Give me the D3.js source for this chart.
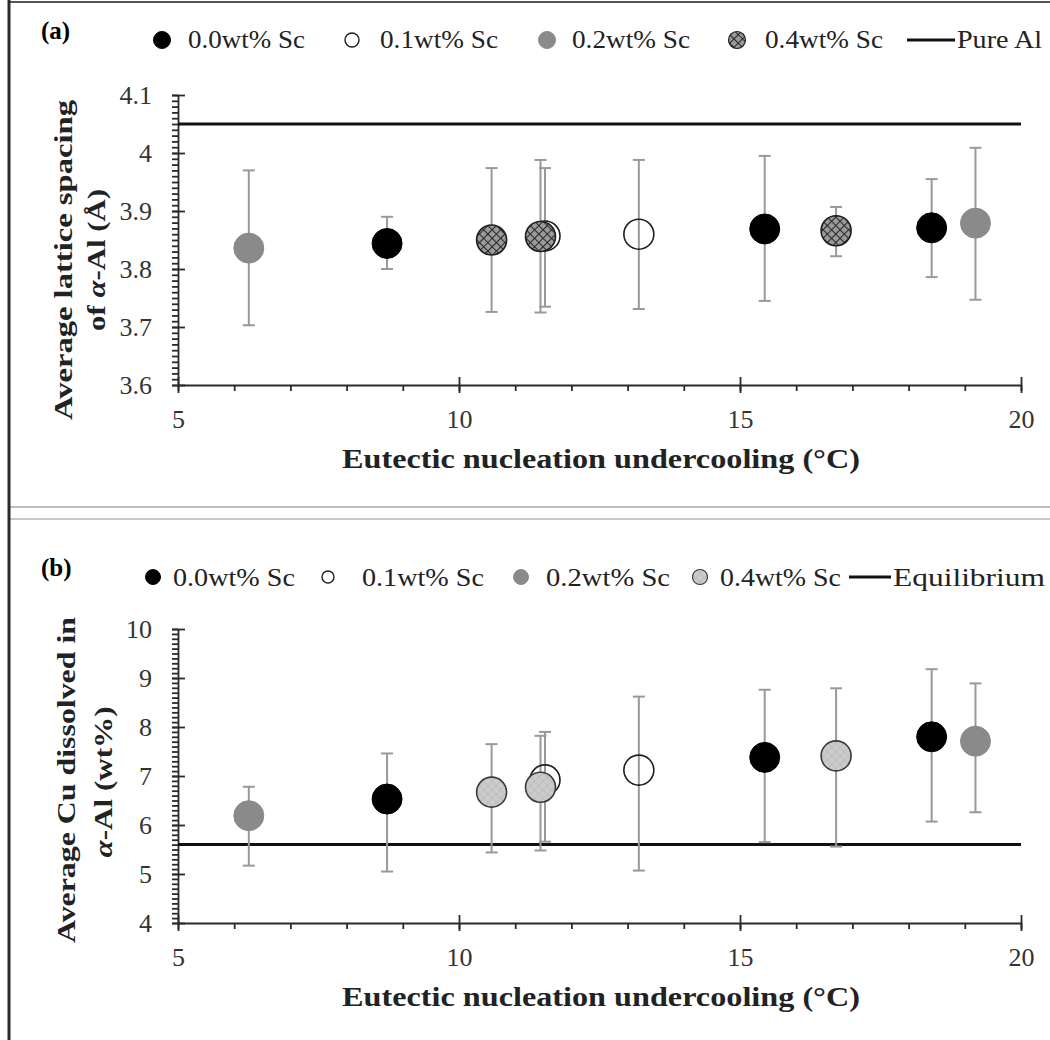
<!DOCTYPE html>
<html>
<head>
<meta charset="utf-8">
<script src="https://cdn.jsdelivr.net/npm/d3@7/dist/d3.min.js"></script>
<style>
  html, body { margin: 0; padding: 0; background: #fff; }
  svg { display: block; }
  svg text { font-family: "Liberation Serif", "Times New Roman", serif; }
</style>
</head>
<body>
<svg id="fig" width="1050" height="1040"></svg>
<script>
// ---- data -------------------------------------------------------------
const seriesLabels = ["0.0wt% Sc", "0.1wt% Sc", "0.2wt% Sc", "0.4wt% Sc"];

// eutectic nucleation undercooling (°C) for each alloy
const x00 = [8.72, 15.44, 18.41];
const x01 = [11.53, 13.20];
const x02 = [6.26, 19.19];
const x04 = [10.58, 11.45, 16.71];

// (a) average lattice spacing of α-Al (Å), with error-bar limits
const lat00 = [3.844, 3.869, 3.871], lat00Lo = [3.800, 3.745, 3.786], lat00Hi = [3.890, 3.995, 3.955];
const lat01 = [3.857, 3.860],        lat01Lo = [3.735, 3.731],        lat01Hi = [3.974, 3.988];
const lat02 = [3.836, 3.879],        lat02Lo = [3.703, 3.747],        lat02Hi = [3.970, 4.009];
const lat04 = [3.850, 3.856, 3.866], lat04Lo = [3.726, 3.725, 3.822], lat04Hi = [3.974, 3.988, 3.907];
const pureAl = 4.05;

// (b) average Cu dissolved in α-Al (wt%), with error-bar limits
const cu00 = [6.53, 7.38, 7.80], cu00Lo = [5.05, 5.65, 6.07], cu00Hi = [7.46, 8.76, 9.18];
const cu01 = [6.92, 7.12],       cu01Lo = [5.66, 5.07],       cu01Hi = [7.90, 8.62];
const cu02 = [6.19, 7.71],       cu02Lo = [5.17, 6.26],       cu02Hi = [6.78, 8.89];
const cu04 = [6.67, 6.77, 7.41], cu04Lo = [5.44, 5.48, 5.56], cu04Hi = [7.65, 7.82, 8.79];
const equilibrium = 5.6;

// axis ticks
const xTicks = [5, 10, 15, 20];
const latTicks = [3.6, 3.7, 3.8, 3.9, 4.0, 4.1];
const cuTicks = [4, 5, 6, 7, 8, 9, 10];

// ---- helpers ----------------------------------------------------------
const FONT = "'Liberation Serif', 'Times New Roman', serif";
const svg = d3.select("#fig");
const defs = svg.append("defs");

// cross-hatched fill for 0.4wt% Sc in (a)
const hA = defs.append("pattern").attr("id", "hatchA")
  .attr("patternUnits", "userSpaceOnUse").attr("width", 6).attr("height", 6)
  .attr("patternTransform", "rotate(45)");
hA.append("rect").attr("width", 6).attr("height", 6).attr("fill", "#9a9a9a");
hA.append("line").attr("x1", 0).attr("y1", 0).attr("x2", 0).attr("y2", 6).attr("stroke", "#262626").attr("stroke-width", 2);
hA.append("line").attr("x1", 0).attr("y1", 0).attr("x2", 6).attr("y2", 0).attr("stroke", "#262626").attr("stroke-width", 2);

// light stippled fill for 0.4wt% Sc in (b)
const hB = defs.append("pattern").attr("id", "hatchB")
  .attr("patternUnits", "userSpaceOnUse").attr("width", 6).attr("height", 6)
  .attr("patternTransform", "rotate(45)");
hB.append("rect").attr("width", 6).attr("height", 6).attr("fill", "#cbcbcb");
hB.append("line").attr("x1", 0).attr("y1", 0).attr("x2", 0).attr("y2", 6).attr("stroke", "#b2b2b2").attr("stroke-width", 1);
hB.append("line").attr("x1", 0).attr("y1", 0).attr("x2", 6).attr("y2", 0).attr("stroke", "#b2b2b2").attr("stroke-width", 1);

function styleMarker(sel, kind, panel) {
  if (kind === 0) sel.attr("fill", "#000").attr("stroke", "#000").attr("stroke-width", 1);
  if (kind === 1) sel.attr("fill", "none").attr("stroke", "#1e1e1e").attr("stroke-width", 1.6);
  if (kind === 2) sel.attr("fill", "#8a8a8a").attr("stroke", "#8a8a8a").attr("stroke-width", 1);
  if (kind === 3) sel.attr("fill", panel === "a" ? "url(#hatchA)" : "url(#hatchB)")
                     .attr("stroke", panel === "a" ? "#1e1e1e" : "#3a3a3a").attr("stroke-width", 1.6);
  return sel;
}

function drawAxes(g, x, y, yMajor, yMinor, fmt) {
  const y0 = y.range()[0];
  const x0 = x.range()[0];
  const xMinor = d3.range(x.domain()[0], x.domain()[1] + 1, 1);

  // x minor ticks (below the axis)
  const gxm = g.append("g").attr("transform", `translate(0,${y0})`)
    .call(d3.axisBottom(x).tickValues(xMinor).tickSize(6).tickFormat(""));
  gxm.select(".domain").remove();
  // x major ticks crossing the axis, with labels
  const gx = g.append("g").attr("transform", `translate(0,${y0})`)
    .call(d3.axisBottom(x).tickValues(xTicks).tickSize(8).tickSizeOuter(0).tickPadding(17).tickFormat(d3.format("d")));
  gx.selectAll(".tick line").attr("y1", -8);

  // y minor ticks (left of the axis)
  const gym = g.append("g").attr("transform", `translate(${x0},0)`)
    .call(d3.axisLeft(y).tickValues(yMinor).tickSize(6).tickFormat(""));
  gym.select(".domain").remove();
  // y major ticks crossing the axis, with labels
  const gy = g.append("g").attr("transform", `translate(${x0},0)`)
    .call(d3.axisLeft(y).tickValues(yMajor).tickSize(6).tickSizeOuter(0).tickPadding(20).tickFormat(fmt));
  gy.selectAll(".tick line").attr("x1", 7);

  g.selectAll(".tick line, .domain").attr("stroke", "#2a2a2a").attr("stroke-width", 1.8);
  g.selectAll(".tick text").attr("font-size", 26).attr("fill", "#333").style("font-family", FONT);
  gy.selectAll(".tick text").attr("dy", "0.33em");
}

function makeSeries(xs, ys, lo, hi, kind, panel) {
  const pts = xs.map((v, i) => ({ x: v, y: ys[i], lo: lo[i], hi: hi[i] }));
  return { pts, kind, panel };
}

function drawPanel(g, x, y, series) {
  // error bars first
  const bars = g.append("g").attr("stroke", "#999").attr("stroke-width", 2);
  series.forEach(s => {
    s.pts.forEach(p => {
      bars.append("line").attr("x1", x(p.x)).attr("x2", x(p.x)).attr("y1", y(p.lo)).attr("y2", y(p.hi));
      bars.append("line").attr("x1", x(p.x) - 6).attr("x2", x(p.x) + 6).attr("y1", y(p.lo)).attr("y2", y(p.lo));
      bars.append("line").attr("x1", x(p.x) - 6).attr("x2", x(p.x) + 6).attr("y1", y(p.hi)).attr("y2", y(p.hi));
    });
  });
  // markers on top
  series.forEach(s => {
    g.append("g").selectAll("circle").data(s.pts).join("circle")
      .attr("cx", d => x(d.x)).attr("cy", d => y(d.y)).attr("r", 15)
      .call(sel => styleMarker(sel, s.kind, s.panel));
  });
}

function legendText(g, x, y, w, str) {
  return g.append("text").attr("x", x).attr("y", y).attr("font-size", 25).attr("fill", "#222")
    .style("font-family", FONT)
    .attr("textLength", w).attr("lengthAdjust", "spacingAndGlyphs").text(str);
}

function drawLegend(g, items, lineItem, panel, y, baseline, markerR) {
  items.forEach((it, k) => {
    const c = g.append("circle").attr("cx", it.cx).attr("cy", y).attr("r", k === 1 ? markerR - 1.5 : markerR);
    styleMarker(c, k, panel);
    if (k === 1) c.attr("stroke-width", 1.4);
    if (k === 3) c.attr("stroke-width", 1.2);
    legendText(g, it.tx, baseline, it.tw, seriesLabels[k]);
  });
  g.append("line").attr("x1", lineItem.x1).attr("x2", lineItem.x2).attr("y1", y).attr("y2", y)
    .attr("stroke", "#111").attr("stroke-width", 3);
  legendText(g, lineItem.tx, baseline, lineItem.tw, lineItem.label);
}

function boldText(g, transform, size, w) {
  const t = g.append("text").attr("transform", transform).attr("text-anchor", "middle")
    .attr("font-size", size).attr("font-weight", "bold").attr("fill", "#222").style("font-family", FONT);
  if (w) t.attr("textLength", w).attr("lengthAdjust", "spacingAndGlyphs");
  return t;
}

// ---- frame ------------------------------------------------------------
svg.append("rect").attr("width", 1050).attr("height", 1040).attr("fill", "#fff");
svg.append("line").attr("x1", 9).attr("x2", 1050).attr("y1", 2).attr("y2", 2).attr("stroke", "#555").attr("stroke-width", 2);
svg.append("line").attr("x1", 9).attr("x2", 1050).attr("y1", 507).attr("y2", 507).attr("stroke", "#bdbdbd").attr("stroke-width", 2);
svg.append("line").attr("x1", 9).attr("x2", 1050).attr("y1", 519).attr("y2", 519).attr("stroke", "#c8c8c8").attr("stroke-width", 2);
svg.append("line").attr("x1", 9).attr("x2", 9).attr("y1", 0).attr("y2", 1040).attr("stroke", "#2a2a2a").attr("stroke-width", 3);

const x = d3.scaleLinear().domain([5, 20]).range([178, 1021]);

// ---- panel (a): lattice spacing -----------------------------------------
const yA = d3.scaleLinear().domain([3.6, 4.1]).range([385, 95]);
const gA = svg.append("g");
gA.append("text").attr("x", 41).attr("y", 39).attr("font-size", 25).attr("font-weight", "bold")
  .style("font-family", FONT).text("(a)");
drawLegend(gA,
  [{ cx: 162, tx: 188, tw: 117 }, { cx: 352, tx: 380, tw: 118 }, { cx: 547, tx: 572, tw: 118 }, { cx: 737, tx: 765, tw: 118 }],
  { x1: 907, x2: 955, tx: 957, tw: 85, label: "Pure Al" }, "a", 40, 48, 8.5);

const latMinor = d3.range(0, 51).map(i => +(3.6 + i * 0.01).toFixed(2));
drawAxes(gA, x, yA, latTicks, latMinor, d => String(d));

gA.append("line").attr("x1", x(5)).attr("x2", x(20)).attr("y1", yA(pureAl)).attr("y2", yA(pureAl))
  .attr("stroke", "#111").attr("stroke-width", 3);

drawPanel(gA, x, yA, [
  makeSeries(x01, lat01, lat01Lo, lat01Hi, 1, "a"),
  makeSeries(x00, lat00, lat00Lo, lat00Hi, 0, "a"),
  makeSeries(x02, lat02, lat02Lo, lat02Hi, 2, "a"),
  makeSeries(x04, lat04, lat04Lo, lat04Hi, 3, "a")
]);

boldText(gA, "translate(72,260) rotate(-90)", 26, 320).text("Average lattice spacing");
const tA2 = boldText(gA, "translate(105,260) rotate(-90)", 26, 142);
tA2.append("tspan").text("of ");
tA2.append("tspan").attr("font-style", "italic").text("α");
tA2.append("tspan").text("-Al (Å)");

boldText(gA, "translate(601,468)", 27, 518).text("Eutectic nucleation undercooling (°C)");

// ---- panel (b): dissolved Cu ------------------------------------------
const yB = d3.scaleLinear().domain([4, 10]).range([923, 629]);
const gB = svg.append("g");
gB.append("text").attr("x", 41).attr("y", 576).attr("font-size", 25).attr("font-weight", "bold")
  .style("font-family", FONT).text("(b)");
drawLegend(gB,
  [{ cx: 153, tx: 173, tw: 122 }, { cx: 328, tx: 362, tw: 122 }, { cx: 521, tx: 546, tw: 124 }, { cx: 700, tx: 720, tw: 121 }],
  { x1: 849, x2: 891, tx: 893, tw: 152, label: "Equilibrium" }, "b", 577, 586, 7.5);

const cuMinor = d3.range(0, 61).map(i => +(4 + i * 0.1).toFixed(1));
drawAxes(gB, x, yB, cuTicks, cuMinor, d3.format("d"));

gB.append("line").attr("x1", x(5)).attr("x2", x(20)).attr("y1", yB(equilibrium)).attr("y2", yB(equilibrium))
  .attr("stroke", "#111").attr("stroke-width", 3);

drawPanel(gB, x, yB, [
  makeSeries(x01, cu01, cu01Lo, cu01Hi, 1, "b"),
  makeSeries(x00, cu00, cu00Lo, cu00Hi, 0, "b"),
  makeSeries(x02, cu02, cu02Lo, cu02Hi, 2, "b"),
  makeSeries(x04, cu04, cu04Lo, cu04Hi, 3, "b")
]);

boldText(gB, "translate(75,780) rotate(-90)", 26, 326).text("Average Cu dissolved in");
const tB2 = boldText(gB, "translate(112,782) rotate(-90)", 26, 151);
tB2.append("tspan").attr("font-style", "italic").text("α");
tB2.append("tspan").text("-Al (wt%)");

boldText(gB, "translate(601,1006)", 27, 518).text("Eutectic nucleation undercooling (°C)");
</script>
</body>
</html>
